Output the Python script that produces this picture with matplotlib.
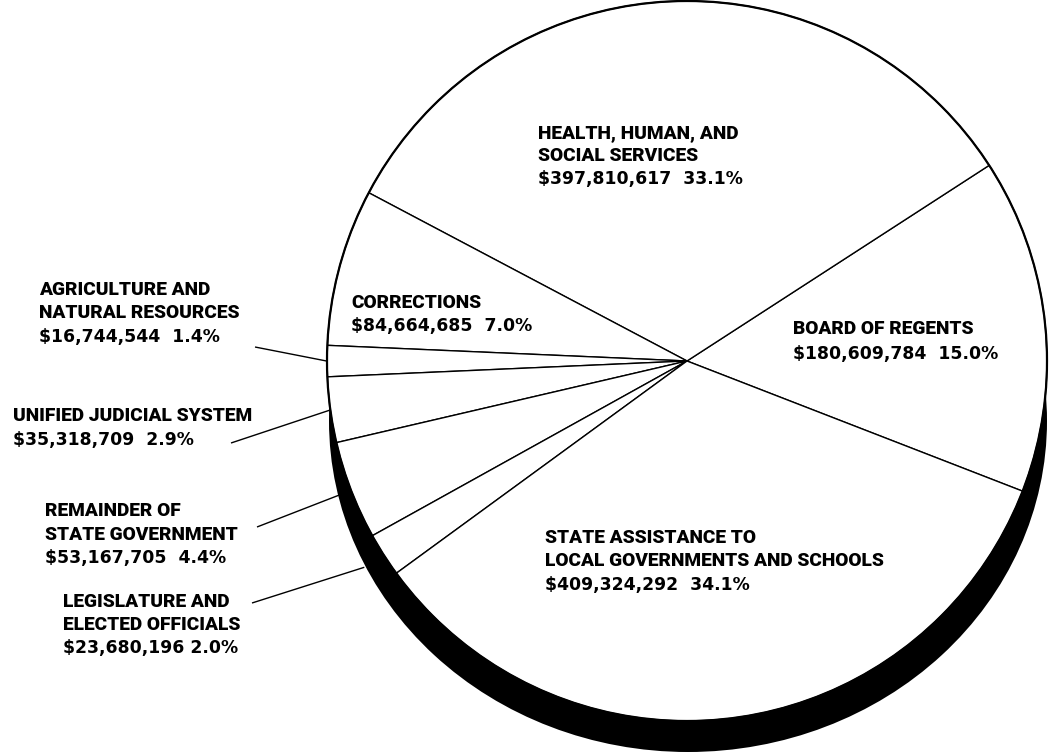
import numpy as np
import matplotlib.pyplot as plt
from matplotlib.patches import Ellipse, Circle

# Budget slices, in the order they go round the pie (counter-clockwise)
names = ['BOARD OF REGENTS',
         'HEALTH, HUMAN, AND\nSOCIAL SERVICES',
         'CORRECTIONS',
         'AGRICULTURE AND\nNATURAL RESOURCES',
         'UNIFIED JUDICIAL SYSTEM',
         'REMAINDER OF\nSTATE GOVERNMENT',
         'LEGISLATURE AND\nELECTED OFFICIALS',
         'STATE ASSISTANCE TO\nLOCAL GOVERNMENTS AND SCHOOLS']
amounts = [180609784, 397810617, 84664685, 16744544,
           35318709, 53167705, 23680196, 409324292]
pcts = ['15.0%', '33.1%', '7.0%', '1.4%', '2.9%', '4.4%', '2.0%', '34.1%']
seps = ['  ', '  ', '  ', '  ', '  ', '  ', ' ', '  ']

# label layout in pixels (x, first baseline, line pitch), image coords
label_pos = [(793, 334, 24.5), (538, 138, 23), (351, 308, 22.5), (39, 295, 23.5),
             (13, 421, 23.5), (45, 516, 23.5), (63, 607, 23), (545, 543, 23.5)]
# leader lines for the slices labelled outside the pie: start point, end radius
leaders = {3: ((255, 347), 360), 4: ((231, 443), 360),
           5: ((257, 527), 360), 6: ((252, 603), 383)}

W, H = 1049, 756
fig = plt.figure(figsize=(W / 100, H / 100), dpi=100)
ax = fig.add_axes([0, 0, 1, 1])

cx, cy, r = 687, H - 361, 360

# black "thickness" under the pie
ax.add_patch(Ellipse((688, H - 421), 718, 662, facecolor='black',
                     edgecolor='none', zorder=1))

wedges, _ = ax.pie(amounts, startangle=-21.2, counterclock=True,
                   center=(cx, cy), radius=r, frame=True,
                   wedgeprops=dict(facecolor='white', edgecolor='black',
                                   linewidth=1.0, zorder=2))
ax.add_patch(Circle((cx, cy), r, fill=False, edgecolor='black', lw=1.6, zorder=3))

for i, ((sx, sy), re) in leaders.items():
    w = wedges[i]
    mid = np.radians((w.theta1 + w.theta2) / 2)
    ex, ey = cx + re * np.cos(mid), cy + re * np.sin(mid)
    ax.plot([sx, ex], [H - sy, ey], color='black', lw=1.0, zorder=4,
            solid_capstyle='butt')

for name, amt, pct, sep, (x, base, pitch) in zip(names, amounts, pcts, seps, label_pos):
    lines = name.split('\n')
    for j, line in enumerate(lines):
        ax.text(x, H - (base + j * pitch), line, family='Roboto',
                fontsize=13.8, fontweight='black', va='baseline', ha='left', zorder=5)
    # the amounts use wider digits, like the original
    ax.text(x, H - (base + len(lines) * pitch), f'${amt:,}{sep}{pct}',
            family='DejaVu Sans', fontsize=12.4, fontweight='bold',
            va='baseline', ha='left', zorder=5)

ax.set_xlim(0, W)
ax.set_ylim(0, H)
ax.set_aspect('equal')
ax.axis('off')

plt.savefig('out.png', dpi=100, facecolor='white')
